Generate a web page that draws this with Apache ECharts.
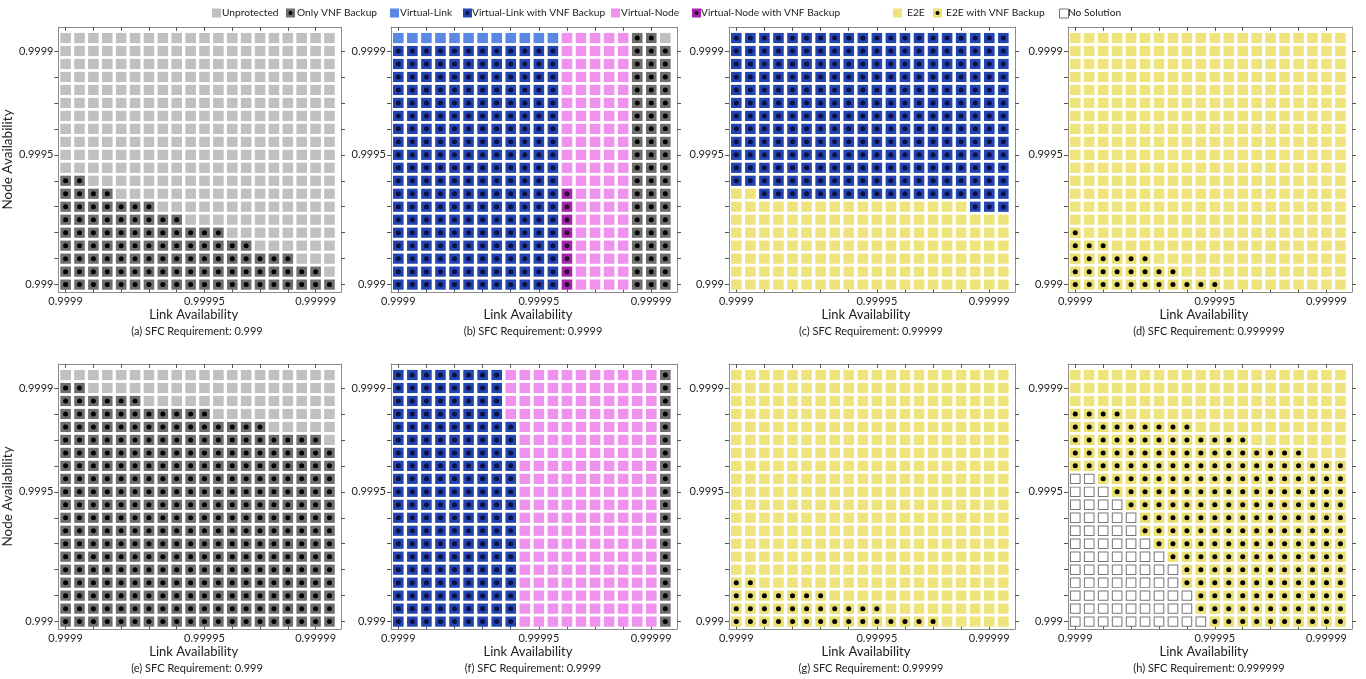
<!DOCTYPE html>
<html><head><meta charset="utf-8">
<script src="https://cdn.jsdelivr.net/npm/echarts@6/dist/echarts.min.js"></script>
<style>html,body{margin:0;padding:0;background:#fff}#c{width:1366px;height:679px}</style>
</head><body><div id="c"></div>
<script>
// ---------------- DATA ----------------
const linkAvail = [0.9999, 0.999905, 0.99991, 0.999915, 0.99992, 0.999925, 0.99993, 0.999935, 0.99994, 0.999945,
                   0.99995, 0.999955, 0.99996, 0.999965, 0.99997, 0.999975, 0.99998, 0.999985, 0.99999, 0.999995];
// rows listed from top to bottom
const nodeAvail = [0.99995, 0.9999, 0.99985, 0.9998, 0.99975, 0.9997, 0.99965, 0.9996, 0.99955, 0.9995,
                   0.99945, 0.9994, 0.99935, 0.9993, 0.99925, 0.9992, 0.99915, 0.9991, 0.99905, 0.999];
const xLabelValues = [0.9999, 0.99995, 0.99999];
const xTickLabels = ['0.9999', '0.99995', '0.99999'];
const yLabelValues = [0.999, 0.9995, 0.9999];
const yTickLabels = ['0.999', '0.9995', '0.9999'];
const xTickValues = [0.9999, 0.99991, 0.99992, 0.99993, 0.99994, 0.99995, 0.99996, 0.99997, 0.99998, 0.99999];
const yTickValues = [0.999, 0.9991, 0.9992, 0.9993, 0.9994, 0.9995, 0.9996, 0.9997, 0.9998, 0.9999];

const categoryCodes = ['U', 'O', 'L', 'M', 'N', 'P', 'E', 'F', 'X'];
const categoryNames = ['Unprotected', 'Only VNF Backup', 'Virtual-Link', 'Virtual-Link with VNF Backup',
                       'Virtual-Node', 'Virtual-Node with VNF Backup', 'E2E', 'E2E with VNF Backup', 'No Solution'];
const backupCodes = ['O', 'M', 'P', 'F'];

const captions = ['(a) SFC Requirement: 0.999', '(b) SFC Requirement: 0.9999', '(c) SFC Requirement: 0.99999',
                  '(d) SFC Requirement: 0.999999', '(e) SFC Requirement: 0.999', '(f) SFC Requirement: 0.9999',
                  '(g) SFC Requirement: 0.99999', '(h) SFC Requirement: 0.999999'];
const xAxisName = 'Link Availability';
const yAxisName = 'Node Availability';

// each row (top to bottom) as runs: code + count of cells, left to right
const panelA = ['U20','U20','U20','U20','U20','U20','U20','U20','U20','U20','U20',
                'O2 U18','O4 U16','O7 U13','O9 U11','O12 U8','O14 U6','O17 U3','O19 U1','O20'];
const panelB = ['L12 N5 O2 U1',
                'M12 N5 O3','M12 N5 O3','M12 N5 O3','M12 N5 O3','M12 N5 O3','M12 N5 O3',
                'M12 N5 O3','M12 N5 O3','M12 N5 O3','M12 N5 O3','M12 N5 O3',
                'M12 P1 N4 O3','M12 P1 N4 O3','M12 P1 N4 O3','M12 P1 N4 O3',
                'M12 P1 N4 O3','M12 P1 N4 O3','M12 P1 N4 O3','M12 P1 N4 O3'];
const panelC = ['M20','M20','M20','M20','M20','M20','M20','M20','M20','M20','M20','M20',
                'E2 M18','E17 M3','E20','E20','E20','E20','E20','E20'];
const panelD = ['E20','E20','E20','E20','E20','E20','E20','E20','E20','E20','E20','E20','E20','E20','E20',
                'F1 E19','F3 E17','F6 E14','F8 E12','F11 E9'];
const panelE = ['U20','O2 U18','O6 U14','O11 U9','O15 U5','O19 U1',
                'O20','O20','O20','O20','O20','O20','O20','O20','O20','O20','O20','O20','O20','O20'];
const panelF = ['M8 N11 O1','M8 N11 O1','M8 N11 O1','M8 N11 O1',
                'M9 N10 O1','M9 N10 O1','M9 N10 O1','M9 N10 O1','M9 N10 O1','M9 N10 O1','M9 N10 O1','M9 N10 O1',
                'M9 N10 O1','M9 N10 O1','M9 N10 O1','M9 N10 O1','M9 N10 O1','M9 N10 O1','M9 N10 O1','M9 N10 O1'];
const panelG = ['E20','E20','E20','E20','E20','E20','E20','E20','E20','E20','E20','E20','E20','E20','E20','E20',
                'F2 E18','F7 E13','F11 E9','F15 E5'];
const panelH = ['E20','E20','E20','F4 E16','F9 E11','F13 E7','F17 E3','F20',
                'X2 F18','X3 F17','X4 F16','X5 F15','X5 F15','X6 F14','X7 F13','X8 F12','X8 F12',
                'X9 F11','X9 F11','X10 F10'];
const panels = [panelA, panelB, panelC, panelD, panelE, panelF, panelG, panelH];

// ---------------- STYLE / LAYOUT ----------------
const FONT = 'Lato, "Open Sans", sans-serif';
const styles = {
  U: {fill: '#c0c0c0'},
  O: {fill: '#6e6e6e', dot: '#000000'},
  L: {fill: '#5a88e4'},
  M: {fill: '#2345b3', dot: '#0b1040'},
  N: {fill: '#ee92ee'},
  P: {fill: '#a424ae', dot: '#2a0a2e'},
  E: {fill: '#efe47c'},
  F: {fill: '#ebdf72', dot: '#000000'},
  X: {fill: '#ffffff', border: '#777777'}
};
const colLefts = [55, 391, 729, 1068];
const colWidths = [286, 286, 286, 284];
const rowTops = [27, 364];
const gridHeight = 265;
const X_MIN = 0.9998974, X_MAX = 0.99999915;
const Y_MIN = 0.9989715, Y_MAX = 0.9999925;
const legendLayout = [[212, 222], [286, 297], [390, 400], [463, 472], [611, 621], [692, 701], [893, 907], [933, 946], [1059, 1068]];

function pick(vals, labels, v) {
  for (let i = 0; i < vals.length; i++) if (Math.abs(vals[i] - v) < 1e-9) return labels[i];
  return '';
}

const grids = [], xAxes = [], yAxes = [], series = [], titles = [];
panels.forEach((rows, p) => {
  const col = p % 4, row = Math.floor(p / 4);
  grids.push({left: colLefts[col], top: rowTops[row], width: colWidths[col], height: gridHeight});
  const lineStyle = {color: '#8c8c8c', width: 1};
  const tickStyle = {color: '#555555', width: 1};
  xAxes.push({
    type: 'value', gridIndex: p, position: 'bottom', min: X_MIN, max: X_MAX,
    splitLine: {show: false},
    axisLine: {show: true, onZero: false, lineStyle},
    axisTick: {show: true, inside: true, length: 4, customValues: xTickValues, lineStyle: tickStyle},
    axisLabel: {show: true, customValues: xLabelValues, formatter: v => pick(xLabelValues, xTickLabels, v),
                margin: 4, fontSize: 11, fontFamily: FONT, color: '#222'},
    name: xAxisName, nameLocation: 'middle', nameGap: 15,
    nameTextStyle: {fontSize: 13, fontFamily: FONT, color: '#222', padding: [0, 12, 0, 0]}
  });
  xAxes.push({
    type: 'value', gridIndex: p, position: 'top', min: X_MIN, max: X_MAX,
    splitLine: {show: false},
    axisLine: {show: true, onZero: false, lineStyle},
    axisTick: {show: true, inside: true, length: 4, customValues: xTickValues, lineStyle: tickStyle},
    axisLabel: {show: false}
  });
  yAxes.push({
    type: 'value', gridIndex: p, position: 'left', min: Y_MIN, max: Y_MAX,
    splitLine: {show: false},
    axisLine: {show: true, onZero: false, lineStyle},
    axisTick: {show: true, inside: false, length: 4, customValues: yTickValues, lineStyle: tickStyle},
    axisLabel: {show: true, customValues: yLabelValues, formatter: v => pick(yLabelValues, yTickLabels, v),
                margin: 5, fontSize: 11, fontFamily: FONT, color: '#222'},
    name: col === 0 ? yAxisName : '', nameLocation: 'middle', nameGap: 34,
    nameTextStyle: {fontSize: 13.5, fontFamily: FONT, color: '#222'}
  });
  yAxes.push({
    type: 'value', gridIndex: p, position: 'right', min: Y_MIN, max: Y_MAX,
    splitLine: {show: false},
    axisLine: {show: true, onZero: false, lineStyle},
    axisTick: {show: true, inside: false, length: 4, customValues: yTickValues, lineStyle: tickStyle},
    axisLabel: {show: false}
  });
  titles.push({
    text: captions[p], left: colLefts[col] + colWidths[col] / 2 - 6, textAlign: 'center',
    top: rowTops[row] + gridHeight + 29,
    textStyle: {fontSize: 11, fontWeight: 'normal', fontFamily: FONT, color: '#222'}
  });

  const cells = {};
  rows.forEach((spec, r) => {
    let c = 0;
    spec.split(' ').forEach(run => {
      const code = run[0], n = parseInt(run.slice(1), 10);
      for (let k = 0; k < n; k++) {
        (cells[code] = cells[code] || []).push([linkAvail[c], nodeAvail[r]]);
        c++;
      }
    });
  });
  categoryCodes.forEach((code, ci) => {
    if (!cells[code]) return;
    const st = styles[code];
    series.push({
      type: 'scatter', name: categoryNames[ci], xAxisIndex: 2 * p, yAxisIndex: 2 * p,
      data: cells[code], symbol: 'rect',
      symbolSize: st.border ? [9.6, 9.4] : [10.6, 10.2],
      itemStyle: {color: st.fill, borderColor: st.border || st.fill, borderWidth: st.border ? 1 : 0, opacity: 1},
      silent: true, z: 2
    });
    if (backupCodes.includes(code)) {
      series.push({
        type: 'scatter', name: categoryNames[ci], xAxisIndex: 2 * p, yAxisIndex: 2 * p,
        data: cells[code], symbol: 'circle', symbolSize: 5,
        itemStyle: {color: st.dot, opacity: 1}, silent: true, z: 3
      });
    }
  });
});

// legend drawn as graphic (composite icons)
const graphic = [];
categoryCodes.forEach((code, i) => {
  const st = styles[code];
  const [ix, tx] = legendLayout[i];
  graphic.push({type: 'rect', left: ix, top: 8.5, shape: {width: 9, height: 9},
                style: {fill: st.fill, stroke: st.border || null, lineWidth: st.border ? 1 : 0}, silent: true});
  if (st.dot) {
    graphic.push({type: 'circle', shape: {cx: ix + 4.5, cy: 13, r: 2}, style: {fill: st.dot}, silent: true});
  }
  graphic.push({type: 'text', left: tx, top: 7.5,
                style: {text: categoryNames[i], fontSize: 10.2, fontFamily: FONT, fill: '#222'}, silent: true});
});

const chart = echarts.init(document.getElementById('c'), null, {renderer: 'canvas'});
chart.setOption({
  backgroundColor: '#ffffff',
  animation: false,
  title: titles,
  grid: grids,
  xAxis: xAxes,
  yAxis: yAxes,
  series: series,
  graphic: graphic
});
</script>
</body></html>
